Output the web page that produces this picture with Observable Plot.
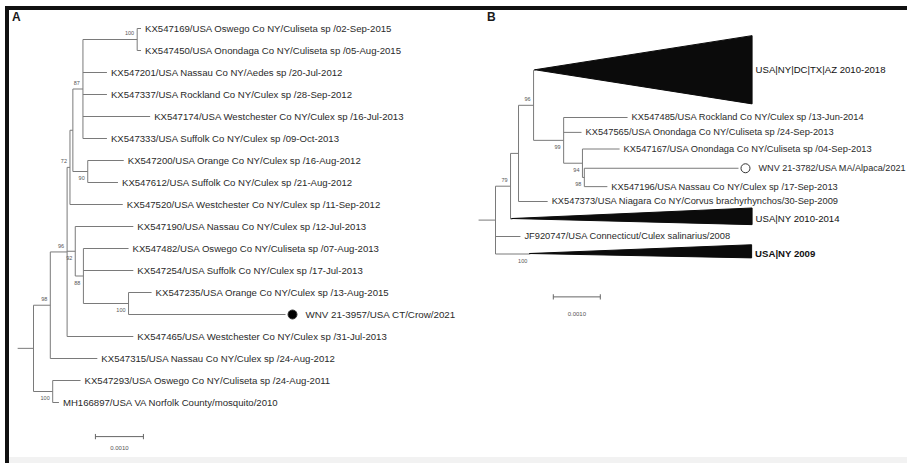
<!DOCTYPE html>
<html>
<head>
<meta charset="utf-8">
<script src="https://cdn.jsdelivr.net/npm/d3@7"></script>
<script src="https://cdn.jsdelivr.net/npm/@observablehq/plot@0.6"></script>
<style>
  body { margin: 0; background: #fff; }
  #fig { position: relative; width: 907px; height: 463px; overflow: hidden; background: #fff;
         font-family: "Liberation Sans", Arial, sans-serif; }
  .bar { position: absolute; background: #111; }
  .panel { position: absolute; top: 0; }
  .letter { position: absolute; top: 10px; font: bold 12px "Liberation Sans", Arial, sans-serif; color: #1a1a1a; }
</style>
</head>
<body>
<div id="fig">
  <div style="position:absolute;left:9px;top:457px;width:898px;height:6px;background:#f2f2f2"></div>
  <div class="bar" style="left:5px;top:6px;width:902px;height:4px"></div>
  <div class="bar" style="left:5px;top:6px;width:4px;height:457px"></div>
  <div class="letter" style="left:12px">A</div>
  <div class="letter" style="left:487px">B</div>
  <div id="panelA" class="panel" style="left:0px"></div>
  <div id="panelB" class="panel" style="left:470px"></div>
</div>
<script>
// ---------- Panel A: WNV 21-3957 (CT crow) among New York isolates ----------
// Tip labels, top to bottom
const tipsA = [
  "KX547169/USA Oswego Co NY/Culiseta sp /02-Sep-2015",
  "KX547450/USA Onondaga Co NY/Culiseta sp /05-Aug-2015",
  "KX547201/USA Nassau Co NY/Aedes sp /20-Jul-2012",
  "KX547337/USA Rockland Co NY/Culex sp /28-Sep-2012",
  "KX547174/USA Westchester Co NY/Culex sp /16-Jul-2013",
  "KX547333/USA Suffolk Co NY/Culex sp /09-Oct-2013",
  "KX547200/USA Orange Co NY/Culex sp /16-Aug-2012",
  "KX547612/USA Suffolk Co NY/Culex sp /21-Aug-2012",
  "KX547520/USA Westchester Co NY/Culex sp /11-Sep-2012",
  "KX547190/USA Nassau Co NY/Culex sp /12-Jul-2013",
  "KX547482/USA Oswego Co NY/Culiseta sp /07-Aug-2013",
  "KX547254/USA Suffolk Co NY/Culex sp /17-Jul-2013",
  "KX547235/USA Orange Co NY/Culex sp /13-Aug-2015",
  "WNV 21-3957/USA CT/Crow/2021",
  "KX547465/USA Westchester Co NY/Culex sp /31-Jul-2013",
  "KX547315/USA Nassau Co NY/Culex sp /24-Aug-2012",
  "KX547293/USA Oswego Co NY/Culiseta sp /24-Aug-2011",
  "MH166897/USA VA Norfolk County/mosquito/2010"
];
const tipRowA = [0, 1, 2, 3, 4, 5, 6, 7, 8, 9, 10, 11, 12, 13, 14, 15, 16, 17];
const tipParentA = ["a100t", "a100t", "a87", "a87", "a87", "a87", "a90", "a90", "a72",
                    "a92", "a88", "a88", "a100c", "a100c", "a96", "a98", "a100", "a100"];
// branch lengths, substitutions per site
const tipLengthA = [0.00008, 0.00008, 0.00050, 0.00050, 0.00140, 0.00050, 0.00075, 0.00063, 0.00110,
                    0.00121, 0.00094, 0.00104, 0.00048, 0.00327, 0.00138, 0.00098, 0.00058, 0.00013];
// internal nodes (first one is the root)
const nodeA        = ["rootA", "a98", "a100", "a96", "a72", "aY", "a87", "a100t", "a90", "a92", "a88", "a100c"];
const nodeParentA  = [null, "rootA", "rootA", "a98", "a96", "a72", "aY", "a87", "aY", "a96", "a92", "a88"];
const nodeLengthA  = [0, 0.00035, 0.00040, 0.00035, 0.00006, 0.00006, 0.00021, 0.00113, 0.00031, 0.00017, 0.00017, 0.00094];
const nodeSupportA = [null, 98, 100, 96, 72, null, 87, 100, 90, 92, 88, 100];
const markedA = "WNV 21-3957/USA CT/Crow/2021";

// ---------- Panel B: WNV 21-3782 (MA alpaca) with collapsed clades ----------
const tipsB = [
  "KX547485/USA Rockland Co NY/Culex sp /13-Jun-2014",
  "KX547565/USA Onondaga Co NY/Culiseta sp /24-Sep-2013",
  "KX547167/USA Onondaga Co NY/Culiseta sp /04-Sep-2013",
  "WNV 21-3782/USA MA/Alpaca/2021",
  "KX547196/USA Nassau Co NY/Culex sp /17-Sep-2013",
  "KX547373/USA Niagara Co NY/Corvus brachyrhynchos/30-Sep-2009",
  "JF920747/USA Connecticut/Culex salinarius/2008"
];
const tipRowB = [0, 0.85, 1.8, 2.9, 3.95, 4.8, 6.8];
const tipParentB = ["b99", "b99", "b94", "b98", "b98", "bZ", "rootB"];
const tipLengthB = [0.00136, 0.00038, 0.00079, 0.00328, 0.00049, 0.00062, 0.00053];
const nodeB        = ["rootB", "b79", "bZ", "b96", "b99", "b94", "b98"];
const nodeParentB  = [null, "rootB", "b79", "bZ", "b96", "b99", "b94"];
const nodeLengthB  = [0, 0.00032, 0.00017, 0.00032, 0.00064, 0.00040, 0.00004];
const nodeSupportB = [null, 79, null, 96, 99, 94, 98];
// collapsed clades: stem, depth of the wedge, and rows spanned above / below the stem
const cladesB       = ["USA|NY|DC|TX|AZ 2010-2018", "USA|NY 2010-2014", "USA|NY 2009"];
const cladeRowB     = [-2.7, 5.8, 7.8];
const cladeParentB  = ["b96", "b79", "rootB"];
const cladeLengthB  = [0.00004, 0.00004, 0.00074];
const cladeSupportB = [null, null, 100];
const cladeDepthB   = [0.00462, 0.00511, 0.00472];
const cladeAboveB   = [1.95, 0.6, 0.5];
const cladeBelowB   = [1.95, 0.35, 0.25];
const markedB = "WNV 21-3782/USA MA/Alpaca/2021";

const scaleBarLength = 0.001;
const scaleBarLabel = "0.0010";

const BRANCH = "#7a7a7a";
const INK = "#2a2a2a";
const FONT = "'Liberation Sans', Arial, sans-serif";

// Build node objects, place x by cumulative branch length and y by rows
function buildTree(s) {
  const byId = new Map();
  s.nodes.forEach((id, i) => byId.set(id, {id, parentId: s.nodeParent[i], length: s.nodeLength[i],
    support: s.nodeSupport[i], children: [], tip: false}));
  s.tips.forEach((label, i) => byId.set(label, {id: label, label, parentId: s.tipParent[i],
    length: s.tipLength[i], row: s.tipRow[i], children: [], tip: true}));
  (s.clades || []).forEach((label, i) => byId.set(label, {id: label, label, parentId: s.cladeParent[i],
    length: s.cladeLength[i], support: s.cladeSupport[i], row: s.cladeRow[i], depth: s.cladeDepth[i],
    above: s.cladeAbove[i], below: s.cladeBelow[i], last: i === s.clades.length - 1,
    children: [], tip: true, clade: true}));
  for (const n of byId.values()) {
    if (n.parentId != null) { n.pnode = byId.get(n.parentId); n.pnode.children.push(n); }
  }
  const root = byId.get(s.nodes[0]);
  (function place(n, x) {
    n.x = x;
    if (n.tip) { n.y = n.row; return; }
    n.children.forEach(c => place(c, x + c.length));
    const ys = n.children.map(c => c.y);
    n.yTop = d3.min(ys); n.yBot = d3.max(ys);
    n.y = (n.yTop + n.yBot) / 2;
  })(root, 0);
  return {root, all: [...byId.values()]};
}

function treeMarks(s) {
  const {root, all} = buildTree(s);
  const horiz = all.filter(n => n.pnode).map(n => ({x1: n.pnode.x, x2: n.x, y: n.y}));
  horiz.push({x1: -s.stub, x2: 0, y: root.y});
  const vert = all.filter(n => !n.tip).map(n => ({x: n.x, y1: n.yTop, y2: n.yBot}));
  const leaves = all.filter(n => n.tip);
  const supported = all.filter(n => n.support != null && n.pnode);
  // bootstrap values sit above a branch that leaves its parent upward, below otherwise
  const isUpper = n => n.y < n.pnode.y - 0.1;
  const wedges = leaves.filter(n => n.clade).flatMap(n => [
    {clade: n.label, x: n.x, lo: n.y, hi: n.y},
    {clade: n.label, x: n.x + n.depth, lo: n.y - n.above, hi: n.y + n.below}
  ]);
  const marked = leaves.filter(n => n.label === s.marked);
  const bar = [{x1: s.scaleStart, x2: s.scaleStart + scaleBarLength, y: s.scaleRow}];
  const barEnds = [s.scaleStart, s.scaleStart + scaleBarLength].map(x => ({x, y1: s.scaleRow - s.scaleTick, y2: s.scaleRow + s.scaleTick}));
  return [
    Plot.link(horiz, {x1: "x1", x2: "x2", y1: "y", y2: "y", stroke: BRANCH, strokeWidth: 1}),
    Plot.link(vert, {x1: "x", x2: "x", y1: "y1", y2: "y2", stroke: BRANCH, strokeWidth: 1}),
    Plot.area(wedges, {x1: "x", y1: "lo", y2: "hi", z: "clade", fill: "#0b0b0b", stroke: "#0b0b0b", strokeWidth: 1}),
    Plot.text(leaves.filter(n => !n.clade && n.label !== s.marked),
      {x: "x", y: "y", text: "label", textAnchor: "start", dx: 4, fontSize: s.fontSize, fill: INK}),
    Plot.text(leaves.filter(n => n.clade && !n.last),
      {x: n => n.x + n.depth, y: "y", text: "label", textAnchor: "start", dx: 3, fontSize: 9.6, fill: "#111"}),
    Plot.text(leaves.filter(n => n.clade && n.last),
      {x: n => n.x + n.depth, y: "y", text: "label", textAnchor: "start", dx: 3, fontSize: 9.6, fontWeight: "bold", fill: "#111"}),
    Plot.dot(marked, {x: "x", y: "y", dx: 7, r: 4.5, fill: s.markFill, stroke: "#333", strokeWidth: 1}),
    Plot.text(marked, {x: "x", y: "y", text: "label", textAnchor: "start", dx: 20, fontSize: s.markSize, fill: INK}),
    Plot.text(supported.filter(isUpper),
      {x: "x", y: "y", text: "support", textAnchor: "end", dx: -3, dy: -6, fontSize: 5.5, fill: "#555"}),
    Plot.text(supported.filter(n => !isUpper(n)),
      {x: "x", y: "y", text: "support", textAnchor: "end", dx: -3, dy: 7, fontSize: 5.5, fill: "#555"}),
    Plot.link(bar, {x1: "x1", x2: "x2", y1: "y", y2: "y", stroke: "#666", strokeWidth: 1}),
    Plot.link(barEnds, {x1: "x", x2: "x", y1: "y1", y2: "y2", stroke: "#666", strokeWidth: 1}),
    Plot.text(bar, {x: d => (d.x1 + d.x2) / 2, y: "y", text: () => scaleBarLabel, dy: s.scaleDy, fontSize: 6, fill: "#555"})
  ];
}

const specA = {
  tips: tipsA, tipRow: tipRowA, tipParent: tipParentA, tipLength: tipLengthA,
  nodes: nodeA, nodeParent: nodeParentA, nodeLength: nodeLengthA, nodeSupport: nodeSupportA,
  marked: markedA, markFill: "#000", stub: 0.00033, fontSize: 9.6, markSize: 9.8,
  scaleStart: 0.00129, scaleRow: 18.55, scaleTick: 0.12, scaleDy: 11
};
const specB = {
  tips: tipsB, tipRow: tipRowB, tipParent: tipParentB, tipLength: tipLengthB,
  nodes: nodeB, nodeParent: nodeParentB, nodeLength: nodeLengthB, nodeSupport: nodeSupportB,
  clades: cladesB, cladeRow: cladeRowB, cladeParent: cladeParentB, cladeLength: cladeLengthB,
  cladeSupport: cladeSupportB, cladeDepth: cladeDepthB, cladeAbove: cladeAboveB, cladeBelow: cladeBelowB,
  marked: markedB, markFill: "#fff", stub: 0.00036, fontSize: 9.3, markSize: 9.1,
  scaleStart: 0.00123, scaleRow: 10.25, scaleTick: 0.15, scaleDy: 17
};

const style = {fontFamily: FONT, background: "transparent", overflow: "visible"};

const plotA = Plot.plot({
  width: 470, height: 463, margin: 0, style,
  x: {axis: null, domain: [0, 0.009], range: [33, 33 + 0.009 * 48000]},
  y: {axis: null, domain: [0, 17], range: [28, 402]},
  marks: treeMarks(specA)
});
const plotB = Plot.plot({
  width: 437, height: 463, margin: 0, style,
  x: {axis: null, domain: [0, 0.006], range: [25, 25 + 0.006 * 47000]},
  y: {axis: null, domain: [0, 10], range: [117, 292]},
  marks: treeMarks(specB)
});
document.getElementById("panelA").append(plotA);
document.getElementById("panelB").append(plotB);
</script>
</body>
</html>
